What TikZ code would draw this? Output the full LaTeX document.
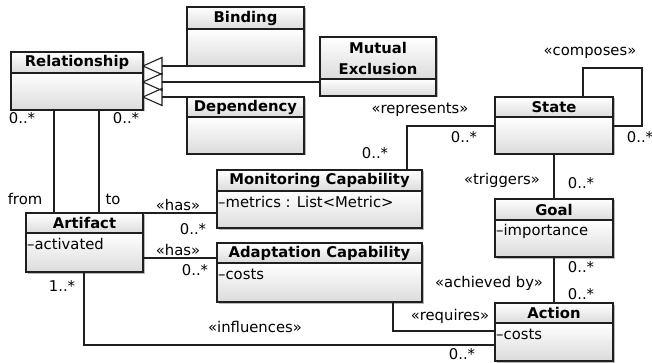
\documentclass[tikz,border=0pt]{standalone}
\usepackage{fontspec}
\setmainfont{DejaVu Sans}
\usetikzlibrary{arrows.meta,calc}
\definecolor{boxbot}{gray}{0.86}
\definecolor{linec}{gray}{0.12}
\tikzset{
  conn/.style={draw=linec, line width=1.1pt},
  classbox/.style={draw=linec, line width=1.2pt, anchor=north west, inner sep=0pt, outer sep=0pt},
  titletext/.style={font=\fontsize{14.8}{21}\selectfont\bfseries, align=center, inner sep=0pt},
  attrtext/.style={font=\fontsize{14.8}{17}\selectfont, anchor=west, inner sep=1pt},
  lbl/.style={font=\fontsize{14.8}{17}\selectfont, inner sep=0pt},
  gentri/.style={conn, line join=miter}
}
\newcommand\umlclass[8]{%
  \fill[gray!55] (#2+1.5,-#3-1.5) rectangle (#2+#4+1.5,-#3-#6-1.5);
  \shade[top color=white, bottom color=boxbot] (#2,-#3) rectangle (#2+#4,-#3-#5);
  \shade[top color=white, bottom color=boxbot] (#2,-#3-#5) rectangle (#2+#4,-#3-#6);
  \node[classbox, minimum width=#4pt, minimum height=#6pt] (#1) at (#2,-#3) {};
  \draw[conn] (#2,-#3-#5) -- (#2+#4,-#3-#5);
  \node[titletext] (#1-title) at (#2+#4/2,-#3-#5/2) {#7};
  \node[attrtext] (#1-attr) at (#2,-#3-#5-11) {#8};
}
\begin{document}
\begin{tikzpicture}[x=1pt,y=1pt]
\useasboundingbox (0,0) rectangle (652,-363);
% classes
\umlclass{rel}{11}{52}{132}{21}{58}{Relationship}{}
\umlclass{bind}{187}{7}{117}{22}{59}{Binding}{}
\umlclass{mutex}{320}{37}{116}{42}{59}{Mutual\\Exclusion}{}
\umlclass{dep}{187}{97}{117}{20}{57}{Dependency}{}
\umlclass{art}{26}{213}{117}{20}{59}{Artifact}{\textendash activated}
\umlclass{mon}{217}{170}{205}{21}{58}{Monitoring Capability}{\textendash metrics : List<Metric>}
\umlclass{ada}{217}{243}{205}{20}{59}{Adaptation Capability}{\textendash costs}
\umlclass{st}{495}{97}{118}{20}{57}{State}{}
\umlclass{goal}{495}{199}{118}{21}{58}{Goal}{\textendash importance}
\umlclass{act}{495}{303}{118}{20}{58}{Action}{\textendash costs}
% anchor coordinates
\coordinate (gb) at (bind.south west);
\coordinate (gbr) at (gb -| rel.east);
\coordinate (gm) at ($(mutex.north west)+(0,-45)$);
\coordinate (gmr) at (gm -| rel.east);
\coordinate (gd) at (dep.north west);
\coordinate (gdr) at (gd -| rel.east);
\coordinate (rf) at ($(rel.south west)+(43,0)$);
\coordinate (rfa) at (rf |- art.north);
\coordinate (rt) at ($(rel.south west)+(88,0)$);
\coordinate (rta) at (rt |- art.north);
\coordinate (h1) at (art.north east);
\coordinate (h1m) at (h1 -| mon.west);
\coordinate (h2) at ($(art.north east)+(0,-45)$);
\coordinate (h2a) at (h2 -| ada.west);
\coordinate (inf) at ($(art.south west)+(58,0)$);
\coordinate (infa) at ($(act.north west)+(0,-42)$);
\coordinate (req) at ($(ada.south west)+(176,0)$);
\coordinate (reqa) at ($(act.north west)+(0,-28)$);
\coordinate (rep) at ($(mon.north west)+(190,0)$);
\coordinate (reps) at ($(st.north west)+(0,-29)$);
\coordinate (cp1) at ($(st.north west)+(88,0)$);
\coordinate (cp2) at ($(st.north east)+(29,29)$);
\coordinate (cp3) at ($(st.north east)+(0,-29)$);
% generalizations (line, then open triangle at Relationship)
\draw[conn] (gb) -- ($(gbr)+(19,0)$);
\draw[conn] (gm) -- ($(gmr)+(19,0)$);
\draw[conn] (gd) -- ($(gdr)+(19,0)$);
\draw[gentri] (gbr) -- ++(19,8.5) -- ++(0,-17) -- cycle;
\draw[gentri] (gmr) -- ++(19,8.5) -- ++(0,-17) -- cycle;
\draw[gentri] (gdr) -- ++(19,8.5) -- ++(0,-17) -- cycle;
% associations
\draw[conn] (rf) -- (rfa);
\draw[conn] (rt) -- (rta);
\draw[conn] (h1) -- (h1m);
\draw[conn] (h2) -- (h2a);
\draw[conn] (inf) |- (infa);
\draw[conn] (req) |- (reqa);
\draw[conn] (rep) |- (reps);
\draw[conn] (cp1) |- (cp2) |- (cp3);
\draw[conn] (st.south) -- (goal.north);
\draw[conn] (goal.south) -- (act.north);
% labels
\node[lbl] (m1) at (22,-118) {0..*};
\node[lbl] (m2) at (126,-118) {0..*};
\node[lbl] (lfrom) at (25,-199) {from};
\node[lbl] (lto) at (113,-199) {to};
\node[lbl] (lhas1) at (178,-205) {«has»};
\node[lbl] (m3) at (193,-229) {0..*};
\node[lbl] (lhas2) at (178,-250) {«has»};
\node[lbl] (m4) at (195,-270) {0..*};
\node[lbl] (m5) at (62,-286) {1..*};
\node[lbl] (linf) at (255,-327) {«influences»};
\node[lbl] (m6) at (462,-354) {0..*};
\node[lbl] (lreq) at (450,-316) {«requires»};
\node[lbl] (lrep) at (420,-110) {«represents»};
\node[lbl] (m7) at (464,-137) {0..*};
\node[lbl] (m8) at (375,-153) {0..*};
\node[lbl] (lcomp) at (590,-53) {«composes»};
\node[lbl] (m9) at (640,-137) {0..*};
\node[lbl] (ltrig) at (502,-180) {«triggers»};
\node[lbl] (m10) at (581,-183) {0..*};
\node[lbl] (lach) at (489,-283) {«achieved by»};
\node[lbl] (m11) at (581,-267) {0..*};
\node[lbl] (m12) at (581,-294) {0..*};
\end{tikzpicture}
\end{document}
